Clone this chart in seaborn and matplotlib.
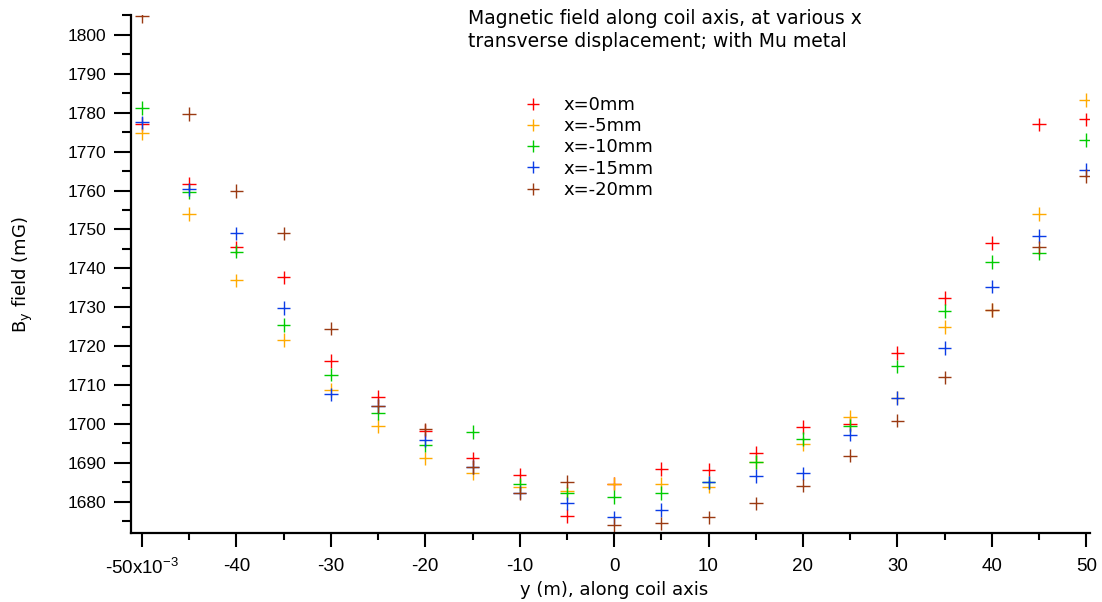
import numpy as np
import pandas as pd
import matplotlib
matplotlib.use("Agg")
import matplotlib.pyplot as plt
from matplotlib.ticker import MultipleLocator, FixedLocator
import seaborn as sns

# ---- data ----
positions_mm = [-50, -45, -40, -35, -30, -25, -20, -15, -10, -5, 0,
                5, 10, 15, 20, 25, 30, 35, 40, 45, 50]
series_labels = ["x=0mm", "x=-5mm", "x=-10mm", "x=-15mm", "x=-20mm"]
b_x0 = [1777.1, 1761.8, 1745.4, 1737.7, 1716.2, 1707.0, 1698.2, 1691.2, 1686.9, 1676.4, 1684.7,
        1688.5, 1688.3, 1692.5, 1699.3, 1700.0, 1718.2, 1732.4, 1746.5, 1777.0, 1778.3]
b_x5 = [1774.7, 1753.9, 1736.9, 1721.6, 1708.7, 1699.5, 1691.2, 1687.3, 1683.9, 1682.8, 1684.7,
        1684.7, 1683.9, 1690.2, 1694.9, 1701.9, 1706.8, 1724.9, 1729.3, 1753.9, 1783.3]
b_x10 = [1781.2, 1759.6, 1744.3, 1725.4, 1712.7, 1702.9, 1694.5, 1697.9, 1684.5, 1682.2, 1681.2,
         1682.3, 1685.0, 1690.3, 1696.1, 1699.6, 1714.8, 1729.0, 1741.6, 1744.0, 1773.0]
b_x15 = [1777.5, 1760.3, 1749.0, 1729.8, 1707.6, 1704.6, 1695.9, 1688.9, 1682.4, 1679.6, 1676.0,
         1677.9, 1685.0, 1686.7, 1687.3, 1697.3, 1706.7, 1719.6, 1735.3, 1748.3, 1765.3]
b_x20 = [1804.9, 1779.7, 1759.9, 1749.0, 1724.5, 1704.7, 1698.6, 1689.0, 1682.2, 1685.2, 1674.1,
         1674.5, 1676.0, 1679.6, 1684.2, 1691.9, 1700.9, 1712.0, 1729.3, 1745.4, 1763.8]
x_tick_values = [-50, -40, -30, -20, -10, 0, 10, 20, 30, 40, 50]
x_tick_labels = ["-50x10$^{-3}$", "-40", "-30", "-20", "-10", "0", "10", "20", "30", "40", "50"]
title_text = "Magnetic field along coil axis, at various x\ntransverse displacement; with Mu metal"

colors = ["#FF0000", "#FFAA00", "#00CC00", "#0A3CE6", "#9A3A12"]

frames = []
for lab, vals in zip(series_labels, [b_x0, b_x5, b_x10, b_x15, b_x20]):
    frames.append(pd.DataFrame({"y": positions_mm, "B": vals, "series": lab}))
df = pd.concat(frames, ignore_index=True)

sns.set_style("ticks")
plt.rcParams["font.family"] = ["Liberation Sans", "DejaVu Sans"]
plt.rcParams["mathtext.default"] = "regular"
plt.rcParams["text.color"] = "black"
plt.rcParams["axes.labelcolor"] = "black"
plt.rcParams["xtick.color"] = "black"
plt.rcParams["ytick.color"] = "black"

wide_font = "DejaVu Sans"

fig = plt.figure(figsize=(11.02, 6.02), dpi=100)
W, H = 1102, 602
ax = fig.add_axes([131 / W, 1 - 533 / H, (1090 - 131) / W, (533 - 15) / H])

sns.scatterplot(data=df, x="y", y="B", hue="series", hue_order=series_labels,
                palette=colors, marker="+", s=95, linewidth=1.0, ax=ax, legend=True)

ax.set_xlim(-51.17, 50.4)
ax.set_ylim(1672.0, 1805.1)

ax.xaxis.set_major_locator(FixedLocator(x_tick_values))
ax.set_xticklabels(x_tick_labels)
ax.xaxis.set_minor_locator(MultipleLocator(5))
ax.yaxis.set_major_locator(MultipleLocator(10))
ax.yaxis.set_minor_locator(MultipleLocator(5))

for s in ["top", "right"]:
    ax.spines[s].set_visible(False)
for s in ["left", "bottom"]:
    ax.spines[s].set_linewidth(1.6)
    ax.spines[s].set_color("black")

ax.tick_params(axis="y", which="major", length=12, width=1.5, pad=6, labelsize=12.5, colors="black")
ax.tick_params(axis="y", which="minor", length=6.5, width=1.5)
ax.tick_params(axis="x", which="major", length=10, width=1.5, pad=8, labelsize=13.5, colors="black")
ax.tick_params(axis="x", which="minor", length=5, width=1.5)

ax.set_xlabel("y (m), along coil axis", fontsize=13, family=wide_font, color="black")
ax.xaxis.set_label_coords((614 - 131) / 959, (533 - 581) / 518)
ax.set_ylabel("B$_y$ field (mG)", fontsize=13, family=wide_font, color="black")
ax.yaxis.set_label_coords((35 - 131) / 959, (533 - 275) / 518)

fig.text(468 / W, 1 - 9 / H, title_text, ha="left", va="top", fontsize=13.5,
         linespacing=1.25, family=wide_font, color="black")

handles, labels = ax.get_legend_handles_labels()
leg = ax.legend(handles, labels, loc="upper left", bbox_to_anchor=(524 / W, 1 - 96 / H),
                bbox_transform=fig.transFigure, frameon=False, handlelength=1.0,
                handletextpad=1.2, borderpad=0, borderaxespad=0, labelspacing=0.18,
                prop={"family": wide_font, "size": 13}, markerscale=0.9)
for t in leg.get_texts():
    t.set_color("black")

fig.savefig("out.png", dpi=100)
